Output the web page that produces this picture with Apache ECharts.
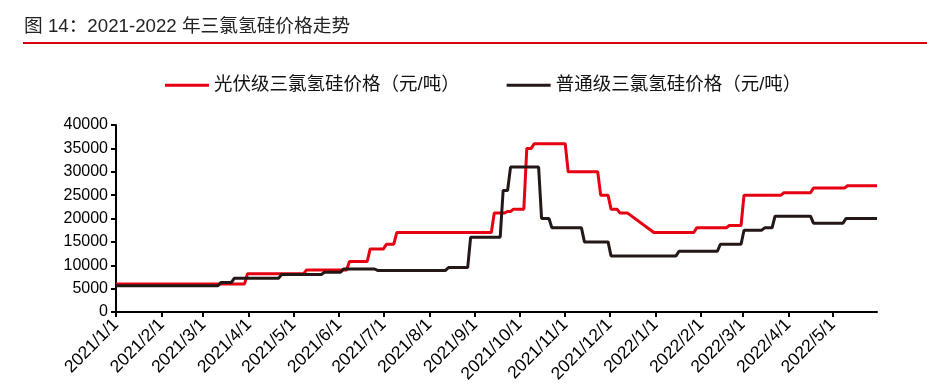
<!DOCTYPE html>
<html>
<head>
<meta charset="utf-8">
<script src="https://cdn.jsdelivr.net/npm/echarts@6/dist/echarts.min.js"></script>
<style>
html,body{margin:0;padding:0;background:#fff;}
#c{width:927px;height:391px;}
</style>
</head>
<body>
<div id="c"></div>
<script>
const titleText = '图 14：2021-2022 年三氯氢硅价格走势';
const seriesNames = ['光伏级三氯氢硅价格（元/吨）', '普通级三氯氢硅价格（元/吨）'];
const monthTicks = ['2021-01-01','2021-02-01','2021-03-01','2021-04-01','2021-05-01','2021-06-01','2021-07-01','2021-08-01','2021-09-01','2021-10-01','2021-11-01','2021-12-01','2022-01-01','2022-02-01','2022-03-01','2022-04-01','2022-05-01'];

const redDates = ['2021-01-01','2021-03-29','2021-03-31','2021-05-08','2021-05-10','2021-06-06','2021-06-08','2021-06-20','2021-06-22','2021-07-01','2021-07-03','2021-07-08','2021-07-10','2021-09-12','2021-09-14','2021-09-21','2021-09-23','2021-09-25','2021-09-27','2021-10-04','2021-10-06','2021-10-09','2021-10-11','2021-11-01','2021-11-03','2021-11-23','2021-11-25','2021-11-30','2021-12-02','2021-12-06','2021-12-08','2021-12-13','2021-12-31','2022-01-27','2022-01-29','2022-02-18','2022-02-20','2022-02-28','2022-03-02','2022-03-27','2022-03-29','2022-04-16','2022-04-18','2022-05-09','2022-05-11','2022-05-31'];
const redValues = [6000,6000,8200,8200,9000,9000,10800,10800,13500,13500,14500,14500,17000,17000,21200,21200,21500,21500,22000,22000,35000,35000,36000,36000,30000,30000,25000,25000,22000,22000,21200,21200,17000,17000,18000,18000,18500,18500,25000,25000,25500,25500,26500,26500,27000,27000];

const blackDates = ['2021-01-01','2021-03-11','2021-03-13','2021-03-20','2021-03-22','2021-04-21','2021-04-23','2021-05-20','2021-05-22','2021-06-02','2021-06-04','2021-06-25','2021-06-27','2021-08-12','2021-08-14','2021-08-27','2021-08-29','2021-09-18','2021-09-20','2021-09-23','2021-09-25','2021-10-14','2021-10-16','2021-10-21','2021-10-23','2021-11-12','2021-11-14','2021-11-30','2021-12-02','2022-01-15','2022-01-17','2022-02-12','2022-02-14','2022-02-28','2022-03-02','2022-03-14','2022-03-16','2022-03-21','2022-03-23','2022-04-16','2022-04-18','2022-05-08','2022-05-10','2022-05-31'];
const blackValues = [5600,5600,6300,6300,7200,7200,8000,8000,8500,8500,9200,9200,8900,8900,9500,9500,16000,16000,26000,26000,31000,31000,20000,20000,18000,18000,15000,15000,12000,12000,13000,13000,14500,14500,17500,17500,18000,18000,20500,20500,19000,19000,20000,20000];

function toTs(s){const p=s.split('-').map(Number);return Date.UTC(p[0],p[1]-1,p[2]);}
const font = "'Liberation Sans', Arial, 'Noto Sans CJK SC', sans-serif";
const tickTs = monthTicks.map(toTs);

const chart = echarts.init(document.getElementById('c'));
chart.setOption({
  animation:false,
  backgroundColor:'#fff',
  graphic:[
    {type:'text', left:24, top:18, style:{text:titleText, font:"18.7px 'Liberation Sans','Noto Sans CJK SC',sans-serif", fill:'#222'}},
    {type:'line', shape:{x1:23,y1:43,x2:927,y2:43}, style:{stroke:'#d7000f', lineWidth:2}}
  ],
  legend:{
    top:71, left:160, itemGap:47, itemWidth:44, itemHeight:3, icon:'rect',
    textStyle:{fontFamily:font, fontSize:18.5, color:'#111', padding:[0,0,0,0]},
    data:seriesNames
  },
  grid:{left:116, right:50, top:125, bottom:79, containLabel:false},
  xAxis:{
    type:'value', min:toTs('2021-01-01'), max:toTs('2022-05-31'),
    axisLine:{lineStyle:{color:'#000', width:2}},
    axisTick:{show:true, length:5, lineStyle:{color:'#000', width:2}, customValues:tickTs},
    axisLabel:{rotate:45, fontSize:17.5, color:'#000', fontFamily:font, margin:10,
      customValues:tickTs,
      formatter:function(v){const d=new Date(v);return d.getUTCFullYear()+'/'+(d.getUTCMonth()+1)+'/'+d.getUTCDate();}},
    splitLine:{show:false}
  },
  yAxis:{
    type:'value', min:0, max:40000, interval:5000,
    axisLine:{show:true, lineStyle:{color:'#000', width:2}},
    axisTick:{show:true, length:5, lineStyle:{color:'#000', width:2}},
    axisLabel:{fontSize:16, color:'#000', fontFamily:font, margin:8, formatter:function(v){return String(v);}},
    splitLine:{show:false}
  },
  series:[
    {name:seriesNames[0], type:'line', symbol:'none', color:'#e60012',
     lineStyle:{width:3, color:'#e60012'},
     data:redDates.map((d,i)=>[toTs(d), redValues[i]])},
    {name:seriesNames[1], type:'line', symbol:'none', color:'#231815',
     lineStyle:{width:3, color:'#231815'},
     data:blackDates.map((d,i)=>[toTs(d), blackValues[i]])}
  ]
});
</script>
</body>
</html>
